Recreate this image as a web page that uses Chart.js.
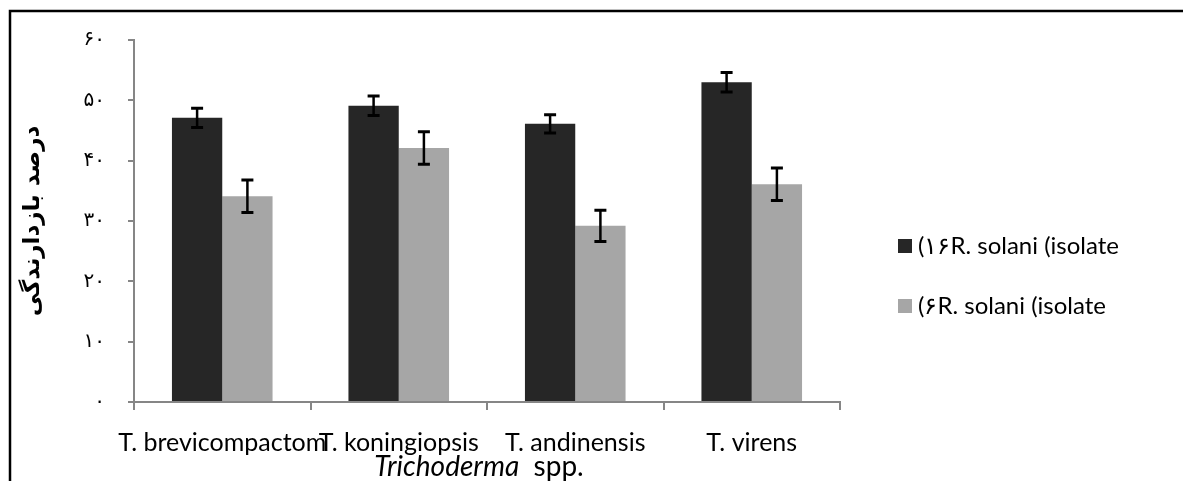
<!DOCTYPE html>
<html>
<head>
<meta charset="utf-8">
<script src="https://cdn.jsdelivr.net/npm/chart.js@4"></script>
<style>
  html, body { margin: 0; padding: 0; background: #fff; }
  #wrap { width: 1183px; height: 481px; position: relative; }
</style>
</head>
<body>
<div id="wrap"><canvas id="inhibitionChart" width="1183" height="481"></canvas></div>
<script>
// data
const species = ["T. brevicompactom", "T. koningiopsis", "T. andinensis", "T. virens"];
const isolate16 = [47.1, 49.1, 46.1, 53.0];
const isolate16Err = [1.6, 1.6, 1.5, 1.6];
const isolate6 = [34.1, 42.1, 29.2, 36.1];
const isolate6Err = [2.7, 2.7, 2.6, 2.7];
const seriesLabels = ["R. solani (isolate ۱۶)", "R. solani (isolate ۶)"];
const yTicks = [0, 10, 20, 30, 40, 50, 60];

const toFa = (n) => String(n).replace(/\d/g, (d) => "۰۱۲۳۴۵۶۷۸۹"[d]);

const errorBars = {
  id: "errorBars",
  afterDatasetsDraw(chart) {
    const ctx = chart.ctx;
    const y = chart.scales.y;
    ctx.save();
    ctx.strokeStyle = "#000";
    chart.data.datasets.forEach((ds, i) => {
      const meta = chart.getDatasetMeta(i);
      meta.data.forEach((bar, j) => {
        const v = ds.data[j];
        const e = ds.errors[j];
        const top = y.getPixelForValue(v + e);
        const bot = y.getPixelForValue(v - e);
        ctx.lineWidth = 2.5;
        ctx.beginPath();
        ctx.moveTo(bar.x, top);
        ctx.lineTo(bar.x, bot);
        ctx.stroke();
        ctx.lineWidth = 3;
        ctx.beginPath();
        ctx.moveTo(bar.x - 6, top);
        ctx.lineTo(bar.x + 6, top);
        ctx.moveTo(bar.x - 6, bot);
        ctx.lineTo(bar.x + 6, bot);
        ctx.stroke();
      });
    });
    ctx.restore();
  },
};

const extras = {
  id: "extras",
  afterDraw(chart) {
    const ctx = chart.ctx;
    const area = chart.chartArea;
    ctx.save();

    // frame (left + top only, the rest is cropped in the original)
    ctx.strokeStyle = "#000";
    ctx.lineWidth = 2.5;
    ctx.beginPath();
    ctx.moveTo(10, chart.height);
    ctx.lineTo(10, 11);
    ctx.lineTo(chart.width, 11);
    ctx.stroke();

    // x axis title: italic genus + plain "spp."
    const italic = "italic 28px Lato";
    const plain = "28px Lato";
    const a = "Trichoderma";
    const b = "  spp.";
    ctx.font = italic;
    const wa = ctx.measureText(a).width;
    ctx.font = plain;
    const wb = ctx.measureText(b).width;
    let x = (area.left + area.right) / 2 - 8 - (wa + wb) / 2;
    ctx.fillStyle = "#000";
    ctx.textBaseline = "alphabetic";
    ctx.textAlign = "left";
    ctx.font = italic;
    ctx.fillText(a, x, 476);
    ctx.font = plain;
    ctx.fillText(b, x + wa, 476);

    // legend: label shown in right-to-left run order, like the original
    const rows = [246, 306];
    chart.data.datasets.forEach((ds, i) => {
      ctx.fillStyle = ds.backgroundColor;
      ctx.fillRect(898, rows[i] - 7, 14, 14);
      ctx.fillStyle = "#000";
      ctx.font = "24px Lato";
      ctx.textBaseline = "middle";
      ctx.textAlign = "left";
      const m = ds.label.match(/^(.*) (\S+)\)$/);
      const parts = m ? ["(", m[2], m[1]] : [ds.label];
      let tx = 918;
      parts.forEach((p) => {
        ctx.fillText(p, tx, rows[i]);
        tx += ctx.measureText(p).width;
      });
    });
    ctx.restore();
  },
};

const ctx = document.getElementById("inhibitionChart").getContext("2d");
new Chart(ctx, {
  type: "bar",
  data: {
    labels: species,
    datasets: [
      {
        label: seriesLabels[0],
        data: isolate16,
        errors: isolate16Err,
        backgroundColor: "#262626",
      },
      {
        label: seriesLabels[1],
        data: isolate6,
        errors: isolate6Err,
        backgroundColor: "#a6a6a6",
      },
    ],
  },
  options: {
    responsive: false,
    animation: false,
    devicePixelRatio: 1,
    layout: { padding: { top: 40, right: 343, bottom: 0, left: 0 } },
    datasets: {
      bar: { categoryPercentage: 0.57, barPercentage: 1.0 },
    },
    plugins: {
      legend: { display: false },
      tooltip: { enabled: false },
    },
    scales: {
      x: {
        afterFit: (scale) => {
          scale.height = 79;
        },
        grid: {
          drawOnChartArea: false,
          offset: true,
          tickLength: 8,
          color: "#868686",
          lineWidth: 2,
        },
        border: { color: "#868686", width: 2 },
        ticks: {
          color: "#000",
          font: { family: "Lato", size: 25 },
          padding: 18,
          maxRotation: 0,
          autoSkip: false,
        },
      },
      y: {
        min: 0,
        max: 60,
        afterFit: (scale) => {
          scale.width = 134;
        },
        afterBuildTicks: (scale) => {
          scale.ticks = yTicks.map((v) => ({ value: v }));
        },
        grid: {
          drawOnChartArea: false,
          tickLength: 6,
          color: "#868686",
          lineWidth: 2,
        },
        border: { color: "#868686", width: 2 },
        ticks: {
          color: "#000",
          font: { family: "DejaVu Sans", size: 20 },
          padding: 23,
          callback: (value) => toFa(value),
        },
        title: {
          display: true,
          text: "درصد بازدارندگی",
          color: "#000",
          font: { family: "DejaVu Sans", size: 23, weight: "bold" },
          padding: { top: 19, bottom: 0 },
        },
      },
    },
  },
  plugins: [errorBars, extras],
});
</script>
</body>
</html>
